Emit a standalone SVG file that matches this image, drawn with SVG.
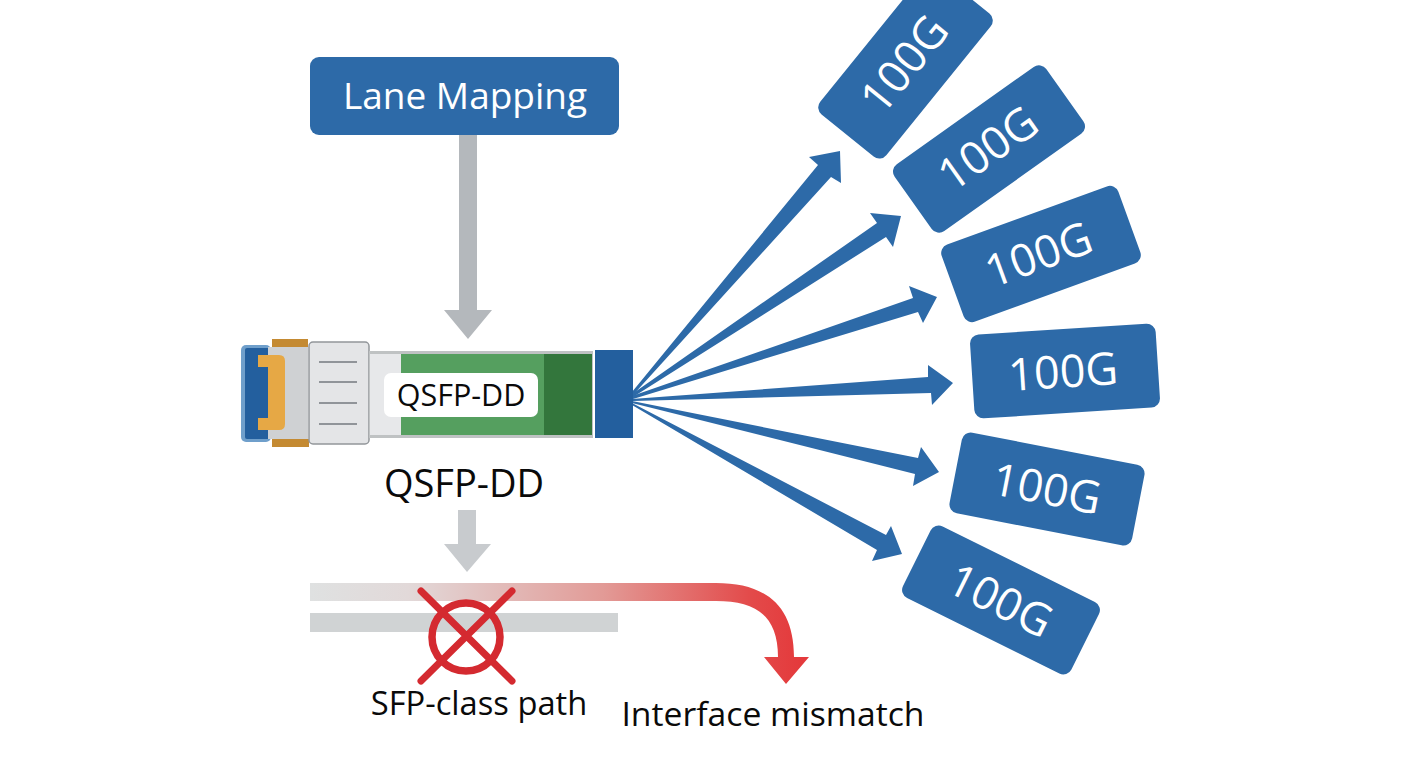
<svg xmlns="http://www.w3.org/2000/svg" width="1408" height="768" viewBox="0 0 1408 768">
<style>
text{font-family:"Open Sans","Noto Sans","Liberation Sans",sans-serif}
.box{fill:#2d6aa8}
.bt{fill:#fff;font-size:45px;text-anchor:middle;dominant-baseline:central}
.lbl{fill:#0a0a0a;text-anchor:middle}
.fan{fill:#2d6aa8}
.x{stroke:#d42a30;fill:none;stroke-linecap:round}
</style>
<defs>
<linearGradient id="rg" gradientUnits="userSpaceOnUse" x1="310" y1="0" x2="800" y2="0">
<stop offset="0" stop-color="#dfe1e1"/><stop offset="0.2" stop-color="#e2d9d9"/><stop offset="0.6" stop-color="#e29a96"/><stop offset="0.9" stop-color="#e34a4a"/><stop offset="1" stop-color="#e43a3c"/>
</linearGradient>
</defs>
<rect width="1408" height="768" fill="#fff"/>
<g id="connectors">
<path d="M459 134H477V310H492L468 339L444 310H459Z" fill="#b4b8bc"/>
<path d="M458 510H476V544H491L467 572L444 544H458Z" fill="#c8cbce"/>
<g id="fan-arrows" class="fan">
<path d="M632 392L818 165L809 157L840 151L841 183L831 177L633 395Z"/>
<path d="M632 394L877 223L870 213L901 216L893 247L886 237L633 397Z"/>
<path d="M632 396L913 298L909 286L937 297L923 323L918 312L633 399Z"/>
<path d="M632 399L928 377L928 365L953 383L932 405L931 393L633 401Z"/>
<path d="M632 401L918 458L921 447L939 472L913 486L915 474L632 403Z"/>
<path d="M632 403L886 535L891 526L902 554L872 561L877 550L632 405Z"/>
</g>
</g>
<g id="lane-mapping"><rect x="310" y="57" width="309" height="78" rx="9" class="box"/><text x="465" y="94" class="bt" style="font-size:37px">Lane Mapping</text></g>
<g id="qsfp-module">
<rect x="241" y="345" width="30" height="97" rx="5" fill="#6f9fcb"/>
<rect x="245" y="348" width="26" height="91" rx="2" fill="#235f9e"/>
<rect x="268" y="347" width="40" height="92" fill="#cfd1d3"/>
<rect x="272" y="339" width="36" height="8" fill="#c48a32"/>
<rect x="272" y="439" width="37" height="8" fill="#c48a32"/>
<path d="M258 355H279Q285 355 285 361V424Q285 430 279 430H258V418H268V367H258Z" fill="#e6a845"/>
<rect x="309" y="342" width="60" height="102" rx="4" fill="#e4e5e7" stroke="#92969a" stroke-width="1.5"/>
<path stroke="#909499" stroke-width="2" d="M319 362H357M319 382H357M319 403H357M319 424H357"/>
<rect x="369" y="351" width="224" height="87" fill="#bfc2c3"/>
<rect x="370" y="354" width="32" height="81" fill="#e7e8ea"/>
<rect x="401" y="354" width="143" height="81" fill="#559f5f"/>
<rect x="544" y="354" width="48" height="81" fill="#33763c"/>
<rect x="595" y="350" width="38" height="88" fill="#235f9e"/>
<rect x="384" y="373" width="154" height="44" rx="7" fill="#fff"/>
<text x="461" y="406" class="lbl" style="font-size:30.5px">QSFP-DD</text>
</g>
<text id="module-label" x="464" y="497" class="lbl" style="font-size:38px">QSFP-DD</text>
<g id="sfp-path">
<rect x="310" y="613" width="308" height="19" fill="#d0d3d4"/>
<path d="M310 583V601H716C755 601 778 615 778 657H764L786 684L809 657H794C794 605 765 583 716 583Z" fill="url(#rg)"/>
<g class="x"><circle cx="466" cy="637" r="34" stroke-width="7.5"/><path d="M421 591L512 681M512 591L421 681" stroke-width="7"/></g>
</g>
<text id="sfp-label" x="479" y="715" class="lbl" style="font-size:32.7px">SFP-class path</text>
<text id="mismatch-label" x="773" y="726" class="lbl" style="font-size:33.7px">Interface mismatch</text>
<g id="out1"><rect x="-92" y="-42.5" width="184" height="85" rx="9" class="box" transform="translate(905.5 64) rotate(-51)"/><text class="bt" transform="translate(903 63) rotate(-51)">100G</text></g>
<g id="out2"><rect x="-93" y="-41" width="186" height="82" rx="9" class="box" transform="translate(989 149) rotate(-35.4)"/><text class="bt" transform="translate(987 147) rotate(-35.4)">100G</text></g>
<g id="out3"><rect x="-94" y="-41" width="188" height="82" rx="9" class="box" transform="translate(1041 254) rotate(-20)"/><text class="bt" transform="translate(1038 253) rotate(-20)">100G</text></g>
<g id="out4"><rect x="-93" y="-42" width="186" height="84" rx="9" class="box" transform="translate(1065 371) rotate(-3.7)"/><text class="bt" transform="translate(1063 370) rotate(-3.7)">100G</text></g>
<g id="out5"><rect x="-93" y="-41" width="186" height="82" rx="9" class="box" transform="translate(1047 489) rotate(11)"/><text class="bt" transform="translate(1047 487) rotate(11)">100G</text></g>
<g id="out6"><rect x="-94" y="-40" width="188" height="80" rx="9" class="box" transform="translate(1001 600) rotate(26.4)"/><text class="bt" transform="translate(1001 599) rotate(26.4)">100G</text></g>
</svg>
